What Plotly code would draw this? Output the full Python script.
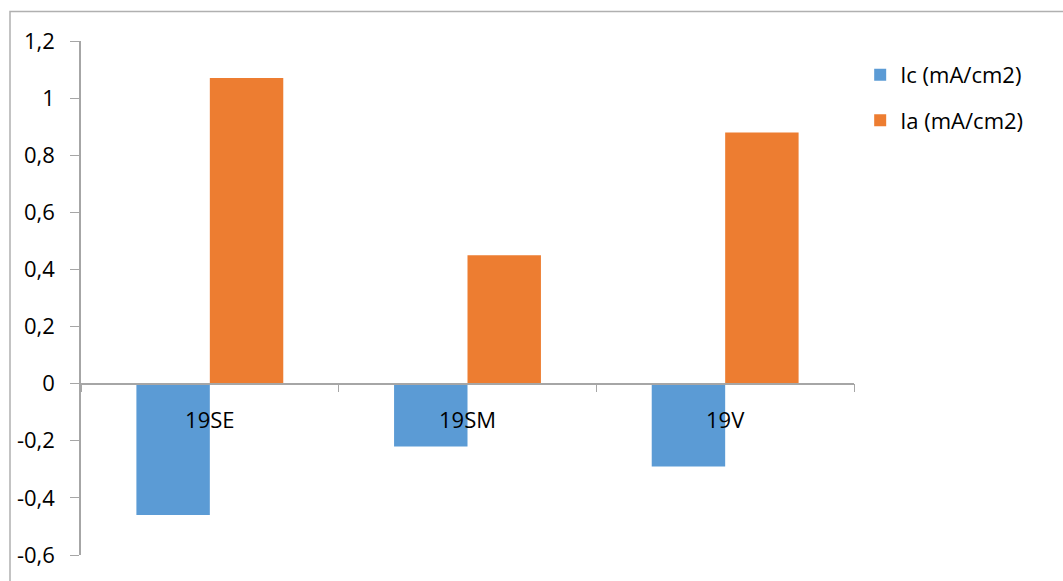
import plotly.graph_objects as go

categories = ["19SE", "19SM", "19V"]
ic_values = [-0.46, -0.22, -0.29]
ia_values = [1.07, 0.45, 0.88]
series_names = ["Ic (mA/cm2)", "Ia (mA/cm2)"]
y_ticks = [-0.6, -0.4, -0.2, 0, 0.2, 0.4, 0.6, 0.8, 1.0, 1.2]
y_tick_labels = ["-0,6", "-0,4", "-0,2", "0", "0,2", "0,4", "0,6", "0,8", "1", "1,2"]

FONT = "Open Sans"
FS = 22
fig = go.Figure()
fig.add_trace(go.Bar(x=categories, y=ic_values, name=series_names[0],
                     marker=dict(color="#5B9BD5", line=dict(width=0)),
                     legendgroup="a"))
fig.add_trace(go.Bar(x=categories, y=ia_values, name=series_names[1],
                     marker=dict(color="#ED7D31", line=dict(width=0)),
                     legendgroup="b"))

ymin, ymax = -0.6, 1.2
zero_frac = (0 - ymin) / (ymax - ymin)

fig.update_layout(
    width=1063, height=581,
    margin=dict(l=81, r=209, t=41, b=19),
    paper_bgcolor="white", plot_bgcolor="white",
    separators=", ",
    barmode="group", bargap=0.43, bargroupgap=0,
    font=dict(family=FONT, size=FS, color="black"),
    showlegend=True,
    legend=dict(x=1.008, y=0.975, xanchor="left", yanchor="top",
                font=dict(family=FONT, size=FS, color="black"),
                tracegroupgap=14, bgcolor="rgba(0,0,0,0)"),
    xaxis=dict(anchor="free", position=zero_frac, showline=True,
               linecolor="#A6A6A6", linewidth=1.5, ticks="outside",
               tickson="boundaries", ticklen=8, tickcolor="#A6A6A6",
               showgrid=False, tickfont=dict(family=FONT, size=FS),
               ticklabelstandoff=17),
    yaxis=dict(range=[ymin, ymax], tickvals=y_ticks, ticktext=y_tick_labels,
               showline=True, linecolor="#A6A6A6", linewidth=1.5,
               ticks="outside", ticklen=9, tickcolor="#A6A6A6",
               showgrid=False, zeroline=False,
               tickfont=dict(family=FONT, size=FS), ticklabelstandoff=11),
)

# outer chart border
fig.add_shape(type="rect", xref="paper", yref="paper",
              x0=(10 - 81) / 773, x1=1.4, y0=-0.2, y1=1 + (41 - 11) / 521,
              line=dict(color="#B0B0B0", width=1.5), fillcolor="rgba(0,0,0,0)",
              layer="below")

fig.write_html("out.html", config={"displayModeBar": False},
               post_script="document.body.style.margin='0';document.body.style.padding='0';")
